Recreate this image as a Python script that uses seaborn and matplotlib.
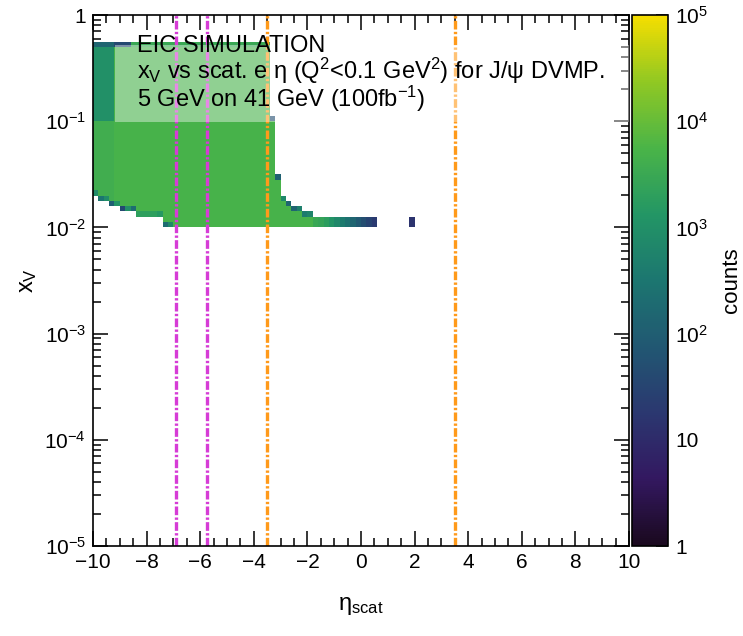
import numpy as np
import pandas as pd
import matplotlib
matplotlib.use("Agg")
import matplotlib.pyplot as plt
from matplotlib.colors import LogNorm, LinearSegmentedColormap
from matplotlib.patches import Rectangle
from matplotlib.ticker import FixedLocator, FixedFormatter, MultipleLocator, LogLocator, NullFormatter
import seaborn as sns

# ---- binning of the 2D histogram -------------------------------------------
ETA_RANGE = (-10.0, 10.0)
LOGX_RANGE = (-5.0, 0.0)      # log10(x_V)
ETA_STEP = 0.2
LOGX_STEP = 0.05

# ---- filled eta columns (bin centres) ---------------------------------------
col_eta = [-9.9, -9.7, -9.5, -9.3, -9.1, -8.9, -8.7, -8.5, -8.3, -8.1,
           -7.9, -7.7, -7.5, -7.3, -7.1, -6.9, -6.7, -6.5, -6.3, -6.1,
           -5.9, -5.7, -5.5, -5.3, -5.1, -4.9, -4.7, -4.5, -4.3, -4.1,
           -3.9, -3.7, -3.5, -3.3, -3.1, -2.9, -2.7, -2.5, -2.3, -2.1,
           -1.9, -1.7, -1.5, -1.3, -1.1, -0.9, -0.7, -0.5, -0.3, -0.1,
           0.1, 0.3, 0.5, 1.9]

# upper / lower log10(x_V) edge of the filled span in each column
col_top = [-0.25] * 33 + [-0.95, -1.50, -1.70, -1.75, -1.80, -1.80, -1.85, -1.85] + [-1.90] * 13
col_bottom = ([-1.70, -1.75, -1.75, -1.80, -1.80, -1.85, -1.85, -1.85,
               -1.90, -1.90, -1.90, -1.90, -1.90] + [-2.00] * 41)

# counts in the top cell, in cells above x_V = 0.1, in the body, and in the bottom cell
col_top_counts = ([150, 150, 150, 150, 40, 40, 40] + [3000] * 26 +
                  [50, 120, 700, 150, 150, 500, 400, 600] +
                  [3000, 2500, 1800, 1200, 700, 400, 250, 150, 80, 50, 30, 20, 15])
col_upper_counts = [1000] * 4 + [5000] * 50
col_body_counts = [4000] * 4 + [5000] * 50
col_bottom_counts = ([800, 300, 900, 100, 1200, 40, 1000, 200,
                      2000, 2000, 2000, 2000, 1500, 200, 700] + [5000] * 26 +
                     [3000, 2500, 1800, 1200, 700, 400, 250, 150, 80, 50, 30, 20, 15])

# detector acceptance boundaries in eta
far_backward_eta = [-6.9, -5.75]
central_eta = [-3.5, 3.5]

# ROOT-style viridis palette stops
palette_red = [26, 51, 43, 33, 28, 35, 74, 144, 246]
palette_green = [9, 24, 55, 87, 118, 150, 180, 200, 222]
palette_blue = [30, 96, 112, 114, 112, 101, 72, 35, 0]

# ---- expand the column description into histogram cells --------------------
rows = []
for eta, top, bot, c_top, c_up, c_body, c_bot in zip(
        col_eta, col_top, col_bottom, col_top_counts, col_upper_counts,
        col_body_counts, col_bottom_counts):
    j_lo = int(round((bot - LOGX_RANGE[0]) / LOGX_STEP))
    j_hi = int(round((top - LOGX_RANGE[0]) / LOGX_STEP)) - 1
    for j in range(j_lo, j_hi + 1):
        centre = LOGX_RANGE[0] + LOGX_STEP * (j + 0.5)
        if j == j_hi:
            c = c_top
        elif j == j_lo:
            c = c_bot
        elif centre > -1.0:
            c = c_up
        else:
            c = c_body
        rows.append((eta, 10.0 ** centre, c))
df = pd.DataFrame(rows, columns=["eta", "xv", "counts"])

palette = LinearSegmentedColormap.from_list(
    "root_viridis",
    [(r / 255, g / 255, b / 255) for r, g, b in zip(palette_red, palette_green, palette_blue)],
    N=255)

# ---- style ------------------------------------------------------------------
sns.set_theme(style="ticks")
plt.rcParams.update({
    "font.family": ["Liberation Sans", "DejaVu Sans"],
    "mathtext.fontset": "custom",
    "mathtext.rm": "Liberation Sans",
    "mathtext.it": "Liberation Sans",
    "mathtext.bf": "Liberation Sans:bold",
    "axes.linewidth": 1.2,
    "axes.edgecolor": "black",
    "xtick.color": "black",
    "ytick.color": "black",
    "text.color": "black",
    "axes.labelcolor": "black",
})

fig = plt.figure(figsize=(7.43, 6.36), dpi=100)
ax = fig.add_axes([0.1252, 0.1415, 0.7214, 0.8349])
cax = fig.add_axes([0.8506, 0.1415, 0.0485, 0.8349])

sns.histplot(
    data=df, x="eta", y="xv", weights="counts",
    binwidth=(ETA_STEP, LOGX_STEP), binrange=(ETA_RANGE, LOGX_RANGE),
    log_scale=(False, True), cmap=palette,
    norm=LogNorm(vmin=1, vmax=1e5), vmin=None, vmax=None,
    cbar=False, ax=ax,
)
mesh = ax.collections[0]

ax.set_xlim(*ETA_RANGE)
ax.set_ylim(10 ** LOGX_RANGE[0], 10 ** LOGX_RANGE[1])

# acceptance lines
dash_dot = (0, (2.6, 0.7, 0.7, 0.7))
for x in far_backward_eta:
    ax.axvline(x, color="#d63cd6", lw=2.4, ls=dash_dot, zorder=2)
for x in central_eta:
    ax.axvline(x, color="#ff9a1a", lw=2.4, ls=dash_dot, zorder=2)

# ticks
ax.xaxis.set_major_locator(MultipleLocator(2))
ax.xaxis.set_minor_locator(MultipleLocator(0.5))
y_major = [1e-5, 1e-4, 1e-3, 1e-2, 1e-1, 1]
ax.yaxis.set_major_locator(FixedLocator(y_major))
ax.yaxis.set_major_formatter(FixedFormatter(
    [r"$10^{-5}$", r"$10^{-4}$", r"$10^{-3}$", r"$10^{-2}$", r"$10^{-1}$", "1"]))
ax.yaxis.set_minor_locator(LogLocator(base=10, subs=np.arange(2, 10), numticks=30))
ax.yaxis.set_minor_formatter(NullFormatter())
ax.tick_params(which="both", direction="in", top=True, right=True, width=1.1,
               labelsize=15, pad=5)
ax.tick_params(which="major", length=11)
ax.tick_params(which="minor", length=5.5)
for s in ax.spines.values():
    s.set_visible(True)

ax.set_xlabel(r"η$_{\mathrm{scat}}$", fontsize=17)
ax.xaxis.set_label_coords(0.5, -0.093)
ax.set_ylabel(r"$x_{V}$", fontsize=17)
ax.yaxis.set_label_coords(-0.10, 0.5)

# semi-transparent title box with its three text lines
ax.add_patch(Rectangle((0.041, 0.798), 0.959, 0.146, transform=ax.transAxes,
                       facecolor="white", alpha=0.4, lw=0, zorder=3))
title_text = "\n".join([
    "EIC SIMULATION",
    r"$x_{V}$ vs scat. e η (Q$^{2}$<0.1 GeV$^{2}$) for J/ψ DVMP.",
    r"5 GeV on 41 GeV (100fb$^{-1}$)",
])
ax.text(0.082, 0.962, title_text, transform=ax.transAxes, fontsize=17,
        ha="left", va="top", linespacing=0.93, zorder=4, clip_on=False)

# colour bar
cb = fig.colorbar(mesh, cax=cax)
cb.outline.set_linewidth(1.2)
cb.set_ticks([1, 10, 1e2, 1e3, 1e4, 1e5],
             labels=["1", "10", r"$10^{2}$", r"$10^{3}$", r"$10^{4}$", r"$10^{5}$"])
cax.yaxis.set_minor_locator(LogLocator(base=10, subs=np.arange(2, 10), numticks=30))
cax.yaxis.set_minor_formatter(NullFormatter())
cax.tick_params(which="both", direction="in", right=True, left=False,
                width=1.1, labelsize=15, pad=5, color="black")
cax.tick_params(which="major", length=9)
cax.tick_params(which="minor", length=5)
fig.text(731 / 743, 1 - 280 / 636, "counts", rotation=90, fontsize=16,
         ha="center", va="center")

fig.savefig("out.png", dpi=100, facecolor="white")
